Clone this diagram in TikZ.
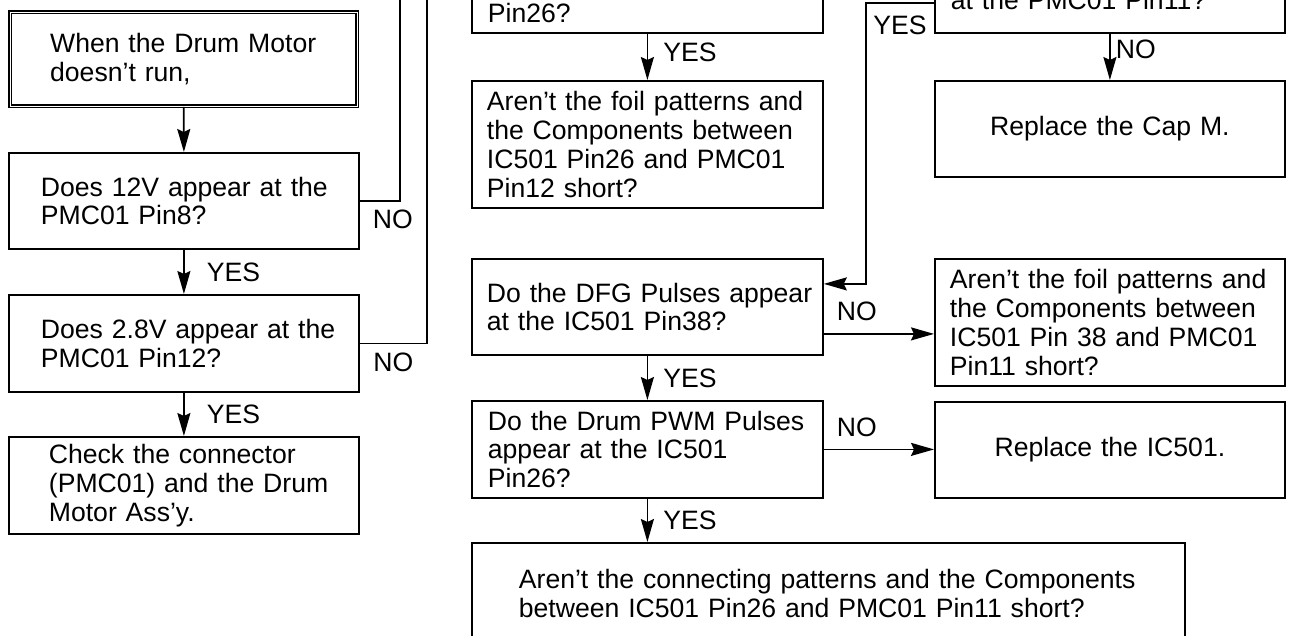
\documentclass[tikz,border=0pt]{standalone}
\usepackage{fontspec}
\setmainfont{Liberation Sans}
\usetikzlibrary{arrows.meta}
\newcommand{\chartfont}{\fontsize{26.6pt}{28.8pt}\selectfont}
\tikzset{
  fcbox/.style={draw=black, line width=1.8pt, inner sep=0pt, anchor=north west,
    text width=350pt, minimum height=96pt, align=left, font=\chartfont},
  pad/.style={execute at begin node={\leftskip=#1\relax}},
  startbox/.style={fcbox, double, double distance=1.1pt, line width=1.3pt},
  flow/.style={-{Stealth[length=23pt, width=13pt, inset=3pt]}, line width=1.8pt, draw=black},
  link/.style={line width=1.8pt, draw=black},
  lbl/.style={font=\chartfont, inner sep=0pt}
}

\begin{document}
\begin{tikzpicture}[x=1pt, y=-1pt]
  \useasboundingbox (0,0) rectangle (1290,635);
  \clip (0,0) rectangle (1290,635);

  % left column
  \node[startbox, text width=347pt, minimum height=94pt, pad=40pt] (b1) at (9.5,11.5) {When the Drum Motor\\doesn't run,};
  \node[fcbox, pad=32pt] (b2) at (8,152) {Does 12V appear at the\\PMC01 Pin8?};
  \node[fcbox, minimum height=97pt, pad=32pt] (b3) at (8,294) {Does 2.8V appear at the\\PMC01 Pin12?};
  \node[fcbox, minimum height=97pt, pad=40pt] (b4) at (8,436) {Check the connector\\(PMC01) and the Drum\\Motor Ass'y.};

  % middle column
  \node[fcbox, anchor=south west, text width=351pt, text height=85pt, text depth=11pt, pad=16pt] (m0) at (471,34) {Pin26?};
  \node[fcbox, text width=351pt, minimum height=127pt, pad=15pt] (m1) at (471,80) {Aren't the foil patterns and\\the Components between\\IC501 Pin26 and PMC01\\Pin12 short?};
  \node[fcbox, text width=351pt, pad=15pt] (m2) at (471,258) {Do the DFG Pulses appear\\at the IC501 Pin38?};
  \node[fcbox, text width=351pt, minimum height=97pt, pad=16pt] (m3) at (471,400) {Do the Drum PWM Pulses\\appear at the IC501\\Pin26?};
  \node[fcbox, text width=713pt, minimum height=101pt, pad=47pt] (m4) at (471,542) {Aren't the connecting patterns and the Components\\between IC501 Pin26 and PMC01 Pin11 short?};

  % right column
  \node[fcbox, anchor=south west, text height=72pt, text depth=24pt, pad=16pt] (r0) at (934,34) {at the PMC01 Pin11?};
  \node[fcbox, align=center] (r1) at (934,80) {Replace the Cap M.};
  \node[fcbox, minimum height=127pt, pad=15pt] (r2) at (934,258) {Aren't the foil patterns and\\the Components between\\IC501 Pin 38 and PMC01\\Pin11 short?};
  \node[fcbox, align=center] (r3) at (934,401) {Replace the IC501.};

  \coordinate (top12v) at (400,-5);
  \coordinate (top28v) at (427,-5);
  \coordinate (yesbend) at (866,3);

  \draw[flow] (b1.south) -- (b2.north);
  \draw[flow] (b2.south) -- node[lbl, right=22pt] {YES} (b3.north);
  \draw[flow] (b3.south) -- node[lbl, right=22pt] {YES} (b4.north);
  \draw[link] (b2.east) -| node[lbl, below=8pt, pos=0.41] {NO} (top12v);
  \draw[link] (b3.east) -| node[lbl, below=9pt, pos=0.25] {NO} (top28v);

  \draw[flow] (m0.south) -- node[lbl, right=15pt, pos=0.4] {YES} (m1.north);
  \draw[flow] (m2.south) -- node[lbl, right=15pt] {YES} (m3.north);
  \draw[flow] (m3.south) -- node[lbl, right=15pt] {YES} (m3.south |- m4.north);
  \draw[flow] ([yshift=-27pt]m2.east) coordinate (dfgno) -- node[lbl, above=12pt, pos=0.3] {NO} (dfgno -| r2.west);
  \draw[flow] (m3.east) -- node[lbl, above=12pt, pos=0.3] {NO} (m3.east -| r3.west);

  \draw[flow] (r0.south) -- node[lbl, right=5pt, pos=0.33] {NO} (r1.north);
  \draw[flow] ([yshift=31pt]r0.south west) -- node[lbl, below=12pt] {YES} (yesbend) |- ([yshift=23pt]m2.east);
\end{tikzpicture}
\end{document}
